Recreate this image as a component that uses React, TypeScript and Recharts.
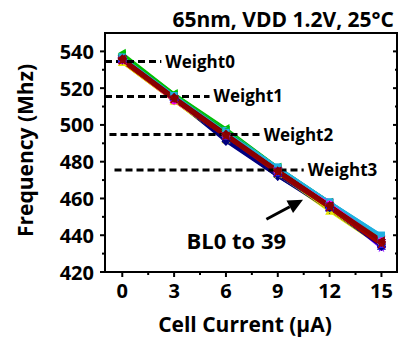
import React from 'react';
import { LineChart, Line, XAxis, YAxis, ReferenceLine, ReferenceDot, Label } from 'recharts';

const X_VALUES = [0, 3, 6, 9, 12, 15];

// Frequency (MHz) for BL0..BL39 at each cell current
const BL_VALUES: number[][] = [
  [537, 515, 494, 474, 455, 435],
  [534, 513, 494, 475, 457, 438],
  [534, 513, 492, 473, 453, 434],
  [535, 513, 493, 474, 454, 435],
  [536, 514, 491, 472, 455, 434],
  [536, 514, 493, 474, 456, 433],
  [535, 514, 494, 475, 456, 435],
  [539, 517, 498, 477, 457, 437],
  [537, 516, 496, 477, 458, 440],
  [537, 515, 493, 473, 455, 435],
  [535, 514, 494, 475, 457, 437],
  [536, 514, 492, 472, 454, 434],
  [536, 515, 494, 474, 456, 434],
  [534, 513, 493, 473, 454, 435],
  [535, 514, 495, 476, 458, 438],
  [538, 516, 497, 476, 457, 437],
  [537, 516, 496, 476, 458, 439],
  [535, 514, 493, 474, 455, 435],
  [536, 515, 494, 474, 455, 434],
  [535, 514, 494, 475, 455, 436],
  [537, 515, 493, 473, 455, 435],
  [536, 514, 494, 474, 456, 435],
  [535, 514, 494, 476, 458, 438],
  [538, 517, 497, 477, 458, 438],
  [537, 516, 497, 477, 458, 440],
  [535, 513, 493, 474, 454, 435],
  [537, 515, 494, 474, 455, 435],
  [536, 514, 494, 475, 456, 436],
  [536, 514, 492, 473, 455, 434],
  [535, 514, 495, 476, 457, 437],
  [536, 515, 494, 475, 456, 435],
  [538, 516, 497, 476, 457, 437],
  [537, 516, 496, 477, 458, 439],
  [535, 513, 494, 475, 457, 437],
  [536, 515, 494, 474, 456, 435],
  [535, 514, 494, 475, 456, 436],
  [536, 515, 495, 475, 456, 436],
  [535, 514, 494, 475, 456, 436],
  [535, 514, 494, 474, 455, 435],
  [536, 514, 494, 475, 456, 437],
];

const BL_COLORS = [
  '#2020FF', '#FF00FF', '#E6E600', '#A0A000', '#000080', '#8000FF', '#800080', '#00C000',
  '#20B0E0', '#0000FF', '#C000C0', '#000080', '#8000FF', '#E6E600', '#FF00FF', '#00C000',
  '#20B0E0', '#800080', '#0000FF', '#A0A000', '#000080', '#8000FF', '#FF00FF', '#00C000',
  '#20B0E0', '#E6E600', '#0000FF', '#800080', '#000080', '#C000C0', '#8000FF', '#00C000',
  '#20B0E0', '#FF00FF', '#2020FF', '#800080', '#800000', '#800000', '#A00000', '#8B0000',
];

const MARKERS = ['square', 'circle', 'triUp', 'triDown', 'diamond', 'star', 'x', 'triLeft'];

const WEIGHT_LABELS = ['Weight0', 'Weight1', 'Weight2', 'Weight3'];
const WEIGHT_VALUES = [534.5, 515.5, 494.8, 475.5];
const WEIGHT_X_START = [-1, -1, -0.74, -0.45];
const WEIGHT_X_END = [2.26, 5.05, 7.95, 10.5];

const ARROW_FROM = { x: 8.34, y: 448.7 };
const ARROW_TO = { x: 10.46, y: 459.3 };
const NOTE_TEXT = 'BL0 to 39';
const NOTE_POS = { x: 6.6, y: 432.3 };

const TITLE = '65nm, VDD 1.2V, 25°C';
const X_DOMAIN = [-1, 15.9];
const Y_DOMAIN = [420, 550];
const X_TICKS = [0, 1.5, 3, 4.5, 6, 7.5, 9, 10.5, 12, 13.5, 15];
const Y_TICKS = [420, 430, 440, 450, 460, 470, 480, 490, 500, 510, 520, 530, 540];

const CHART_W = 400;
const CHART_H = 337;
const MARGIN = { top: 33, right: 3, bottom: 0, left: 0 };
const Y_AXIS_W = 105;
const X_AXIS_H = 65;
const PLOT_LEFT = MARGIN.left + Y_AXIS_W;
const PLOT_TOP = MARGIN.top;
const PLOT_RIGHT = CHART_W - MARGIN.right;
const PLOT_BOTTOM = CHART_H - MARGIN.bottom - X_AXIS_H;
const yPx = (v: number) =>
  PLOT_TOP + ((Y_DOMAIN[1] - v) / (Y_DOMAIN[1] - Y_DOMAIN[0])) * (PLOT_BOTTOM - PLOT_TOP);

const data = X_VALUES.map((x, i) => {
  const row: Record<string, number> = { x };
  BL_VALUES.forEach((s, k) => {
    row['bl' + k] = s[i];
  });
  return row;
});

const makeDot = (shape: string, color: string, id: number) => (props: any) => {
  const { cx, cy, index } = props;
  const key = `d${id}-${index}`;
  if (cx == null || cy == null) return <g key={key} />;
  const r = 3.5;
  switch (shape) {
    case 'square':
      return <rect key={key} x={cx - r} y={cy - r} width={2 * r} height={2 * r} fill={color} />;
    case 'circle':
      return <circle key={key} cx={cx} cy={cy} r={r} fill={color} />;
    case 'triUp':
      return <polygon key={key} points={`${cx},${cy - r - 1} ${cx - r - 1},${cy + r} ${cx + r + 1},${cy + r}`} fill={color} />;
    case 'triDown':
      return <polygon key={key} points={`${cx},${cy + r + 1} ${cx - r - 1},${cy - r} ${cx + r + 1},${cy - r}`} fill={color} />;
    case 'triLeft':
      return <polygon key={key} points={`${cx - r - 1},${cy} ${cx + r},${cy - r - 1} ${cx + r},${cy + r + 1}`} fill={color} />;
    case 'diamond':
      return <polygon key={key} points={`${cx},${cy - r - 1} ${cx + r + 1},${cy} ${cx},${cy + r + 1} ${cx - r - 1},${cy}`} fill={color} />;
    case 'star': {
      const pts: string[] = [];
      for (let i = 0; i < 10; i++) {
        const a = -Math.PI / 2 + (i * Math.PI) / 5;
        const rr = i % 2 === 0 ? r + 1.5 : r * 0.5;
        pts.push(`${cx + rr * Math.cos(a)},${cy + rr * Math.sin(a)}`);
      }
      return <polygon key={key} points={pts.join(' ')} fill={color} />;
    }
    default:
      return (
        <g key={key} stroke={color} strokeWidth={1.5}>
          <line x1={cx - r} y1={cy - r} x2={cx + r} y2={cy + r} />
          <line x1={cx - r} y1={cy + r} x2={cx + r} y2={cy - r} />
        </g>
      );
  }
};

const XTick = (props: any) => {
  const { x, y, payload } = props;
  const v = payload.value;
  const major = Math.abs(v % 3) < 1e-6;
  return (
    <g>
      <line x1={x} x2={x} y1={y} y2={y + (major ? 5 : 3)} stroke="#000" strokeWidth={2} />
      {major && (
        <text x={x} y={y + 26} textAnchor="middle" fontSize={20} fontWeight={700} fill="#000">
          {v}
        </text>
      )}
    </g>
  );
};

const YTickLeft = (props: any) => {
  const { x, y, payload } = props;
  const v = payload.value;
  const major = (v - 420) % 20 === 0;
  return (
    <g>
      <line x1={x - (major ? 5 : 3)} x2={x} y1={y} y2={y} stroke="#000" strokeWidth={2} />
      {major && (
        <text x={x - 11} y={y} textAnchor="end" dominantBaseline="central" fontSize={20} fontWeight={700} fill="#000">
          {v}
        </text>
      )}
    </g>
  );
};

const ArrowShape = (props: any) => {
  const { x1, y1, x2, y2 } = props;
  if ([x1, y1, x2, y2].some((v) => v == null || isNaN(v))) return <g />;
  const dx = x2 - x1;
  const dy = y2 - y1;
  const len = Math.sqrt(dx * dx + dy * dy);
  const ux = dx / len;
  const uy = dy / len;
  const hl = 15;
  const hw = 7;
  const bx = x2 - ux * hl;
  const by = y2 - uy * hl;
  return (
    <g>
      <line x1={x1} y1={y1} x2={bx} y2={by} stroke="#000" strokeWidth={3} />
      <polygon
        points={`${x2},${y2} ${bx - uy * hw},${by + ux * hw} ${bx + uy * hw},${by - ux * hw}`}
        fill="#000"
      />
    </g>
  );
};

const NoteShape = (props: any) => {
  const { cx, cy } = props;
  return (
    <text x={cx} y={cy} textAnchor="middle" fontSize={22} fontWeight={700} fill="#000">
      {NOTE_TEXT}
    </text>
  );
};

export default function App() {
  return (
    <div
      style={{
        position: 'absolute',
        left: 0,
        top: 0,
        width: CHART_W,
        height: CHART_H,
        background: '#fff',
        fontFamily: "'Open Sans', sans-serif",
        fontWeight: 700,
      }}
    >
      <LineChart width={CHART_W} height={CHART_H} data={data} margin={MARGIN}>
        <XAxis
          dataKey="x"
          type="number"
          domain={X_DOMAIN}
          ticks={X_TICKS}
          interval={0}
          tickSize={0}
          tickMargin={0}
          tickLine={false}
          tick={<XTick />}
          axisLine={{ stroke: '#000', strokeWidth: 2 }}
          height={X_AXIS_H}
          allowDataOverflow
        >
          <Label
            content={(p: any) => {
              const vb = p.viewBox || {};
              return (
                <text x={vb.x + 140} y={vb.y + 59.5} textAnchor="middle" fontSize={21} fontWeight={700} fill="#000">
                  Cell Current (μA)
                </text>
              );
            }}
          />
        </XAxis>
        <YAxis
          type="number"
          domain={Y_DOMAIN}
          ticks={Y_TICKS}
          interval={0}
          tickSize={0}
          tickMargin={0}
          tickLine={false}
          tick={<YTickLeft />}
          axisLine={{ stroke: '#000', strokeWidth: 2 }}
          width={Y_AXIS_W}
          allowDataOverflow
        >
          <Label
            content={(p: any) => {
              const vb = p.viewBox || {};
              const cx = 25;
              const cy = vb.y + vb.height / 2 - 2;
              return (
                <text
                  x={cx}
                  y={cy}
                  transform={`rotate(-90 ${cx} ${cy})`}
                  textAnchor="middle"
                  dominantBaseline="central"
                  fontSize={21}
                  fontWeight={700}
                  fill="#000"
                >
                  Frequency (Mhz)
                </text>
              );
            }}
          />
        </YAxis>
        {BL_VALUES.map((_, k) => (
          <Line
            key={'bl' + k}
            dataKey={'bl' + k}
            stroke={BL_COLORS[k]}
            strokeWidth={k >= 36 ? 4 : 2.5}
            dot={makeDot(MARKERS[k % MARKERS.length], BL_COLORS[k], k)}
            activeDot={false}
            isAnimationActive={false}
          />
        ))}
        {WEIGHT_LABELS.map((lab, i) => (
          <ReferenceLine
            key={lab}
            segment={[
              { x: WEIGHT_X_START[i], y: WEIGHT_VALUES[i] },
              { x: WEIGHT_X_END[i], y: WEIGHT_VALUES[i] },
            ]}
            stroke="#000"
            strokeWidth={3}
            strokeDasharray="7 4"
            ifOverflow="visible"
            label={{ value: lab, position: 'right', offset: 4, fill: '#000', fontSize: 17, fontWeight: 700 }}
          />
        ))}
        <ReferenceLine segment={[ARROW_FROM, ARROW_TO]} shape={<ArrowShape />} />
        <ReferenceDot x={NOTE_POS.x} y={NOTE_POS.y} r={0} shape={<NoteShape />} />
      </LineChart>
      <svg
        width={CHART_W}
        height={CHART_H}
        style={{ position: 'absolute', left: 0, top: 0, pointerEvents: 'none' }}
      >
        <text x={394} y={27} textAnchor="end" fontSize={21} fontWeight={700} fill="#000">
          {TITLE}
        </text>
        <line x1={PLOT_LEFT - 1} y1={PLOT_TOP} x2={PLOT_RIGHT + 1} y2={PLOT_TOP} stroke="#000" strokeWidth={2} />
        <line x1={PLOT_RIGHT} y1={PLOT_TOP} x2={PLOT_RIGHT} y2={PLOT_BOTTOM + 1} stroke="#000" strokeWidth={2} />
        {Y_TICKS.map((v) => {
          const major = (v - 420) % 20 === 0;
          const y = yPx(v);
          return (
            <line key={'rt' + v} x1={PLOT_RIGHT - (major ? 4 : 2)} x2={PLOT_RIGHT} y1={y} y2={y} stroke="#000" strokeWidth={2} />
          );
        })}
      </svg>
    </div>
  );
}
